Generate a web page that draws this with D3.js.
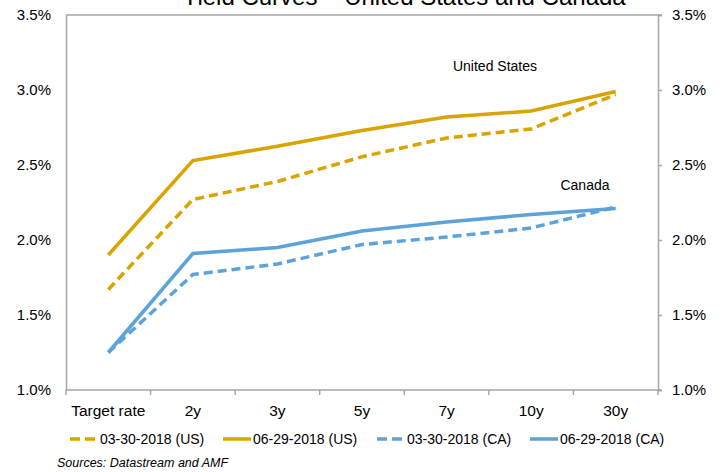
<!DOCTYPE html>
<html><head><meta charset="utf-8">
<script src="https://cdn.jsdelivr.net/npm/d3@7"></script>
<style>body{margin:0;background:#fff}svg{display:block;font-family:"Liberation Sans",Arial,sans-serif}</style>
</head><body><svg id="c" width="724" height="472"></svg>
<script>
const categories = ["Target rate","2y","3y","5y","7y","10y","30y"];
const us_0330 = [1.67,2.27,2.39,2.555,2.68,2.74,2.97];
const us_0629 = [1.90,2.53,2.625,2.73,2.82,2.86,2.99];
const ca_0330 = [1.25,1.77,1.84,1.97,2.02,2.08,2.22];
const ca_0629 = [1.25,1.91,1.95,2.06,2.12,2.17,2.21];
const yTicks = [1.0,1.5,2.0,2.5,3.0,3.5];
const seriesNames = ["03-30-2018 (US)","06-29-2018 (US)","03-30-2018 (CA)","06-29-2018 (CA)"];

const gold = "#D9A300", blue = "#5BA3D9", axisCol = "#A6A6A6";
const series = [
  {name: seriesNames[0], values: us_0330, color: gold, dash: true},
  {name: seriesNames[1], values: us_0629, color: gold, dash: false},
  {name: seriesNames[2], values: ca_0330, color: blue, dash: true},
  {name: seriesNames[3], values: ca_0629, color: blue, dash: false}
];

const svg = d3.select("#c");
const L = 66, R = 658, T = 15, B = 390;
const x = d3.scaleBand().domain(categories).range([L, R]).padding(0);
const y = d3.scaleLinear().domain([1.0, 3.5]).range([B, T]);

// title (partly cut off at top, as in the reference)
svg.append("text").attr("x", 404).attr("y", 5).attr("text-anchor","middle")
  .attr("font-size", 24).attr("fill","#000").text("Yield Curves – United States and Canada");

// frame: top and bottom lines
[3.5, 1.0].forEach(v => {
  svg.append("line").attr("x1", L).attr("x2", R + 4).attr("y1", y(v)).attr("y2", y(v))
    .attr("stroke", axisCol).attr("stroke-width", 1.5);
});

// left axis
const leftAx = d3.axisLeft(y).tickValues(yTicks).tickSize(0).tickPadding(15)
  .tickFormat(d => d3.format(".1f")(d) + "%");
const gl = svg.append("g").attr("transform", `translate(${L},0)`).call(leftAx);
gl.select(".domain").attr("stroke", axisCol).attr("stroke-width", 1.5);
gl.selectAll("text").attr("font-size", 15).attr("fill", "#000").attr("font-family","Liberation Sans, Arial, sans-serif");

// right axis
const rightAx = d3.axisRight(y).tickValues(yTicks).tickSize(4).tickPadding(10)
  .tickFormat(d => d3.format(".1f")(d) + "%");
const gr = svg.append("g").attr("transform", `translate(${R},0)`).call(rightAx);
gr.select(".domain").attr("stroke", axisCol).attr("stroke-width", 1.5);
gr.selectAll(".tick line").attr("stroke", axisCol).attr("stroke-width", 1.5);
gr.selectAll("text").attr("font-size", 15).attr("fill", "#000").attr("font-family","Liberation Sans, Arial, sans-serif");

// x axis ticks at band boundaries
const bounds = categories.map(c => x(c)).concat([R]);
svg.append("g").selectAll("line").data(bounds).join("line")
  .attr("x1", d => d).attr("x2", d => d).attr("y1", B).attr("y2", B + 5)
  .attr("stroke", axisCol).attr("stroke-width", 1.5);
svg.append("g").selectAll("text").data(categories).join("text")
  .attr("x", d => x(d) + x.bandwidth()/2).attr("y", B + 26).attr("text-anchor","middle")
  .attr("font-size", 15.5).attr("fill","#000").text(d => d);

// lines
const line = d3.line().x((d,i) => x(categories[i]) + x.bandwidth()/2).y(d => y(d));
series.forEach(s => {
  svg.append("path").datum(s.values).attr("d", line).attr("fill","none")
    .attr("stroke", s.color).attr("stroke-width", 3.5)
    .attr("stroke-dasharray", s.dash ? "9,5" : null);
});

// annotations
svg.append("text").attr("x", 495).attr("y", 71).attr("text-anchor","middle")
  .attr("font-size", 14).attr("fill","#000").text("United States");
svg.append("text").attr("x", 585).attr("y", 190).attr("text-anchor","middle")
  .attr("font-size", 14).attr("fill","#000").text("Canada");

// legend
const legX = [70, 223, 377, 530];
const lg = svg.append("g");
series.forEach((s, i) => {
  lg.append("line").attr("x1", legX[i]).attr("x2", legX[i] + 28).attr("y1", 439).attr("y2", 439)
    .attr("stroke", s.color).attr("stroke-width", 3.5)
    .attr("stroke-dasharray", s.dash ? "10,5" : null);
  lg.append("text").attr("x", legX[i] + 30).attr("y", 444).attr("font-size", 14)
    .attr("fill","#000").text(s.name);
});

// source
svg.append("text").attr("x", 57).attr("y", 467).attr("font-size", 12.5).attr("font-style","italic")
  .attr("fill","#000").text("Sources: Datastream and AMF");
</script></body></html>
